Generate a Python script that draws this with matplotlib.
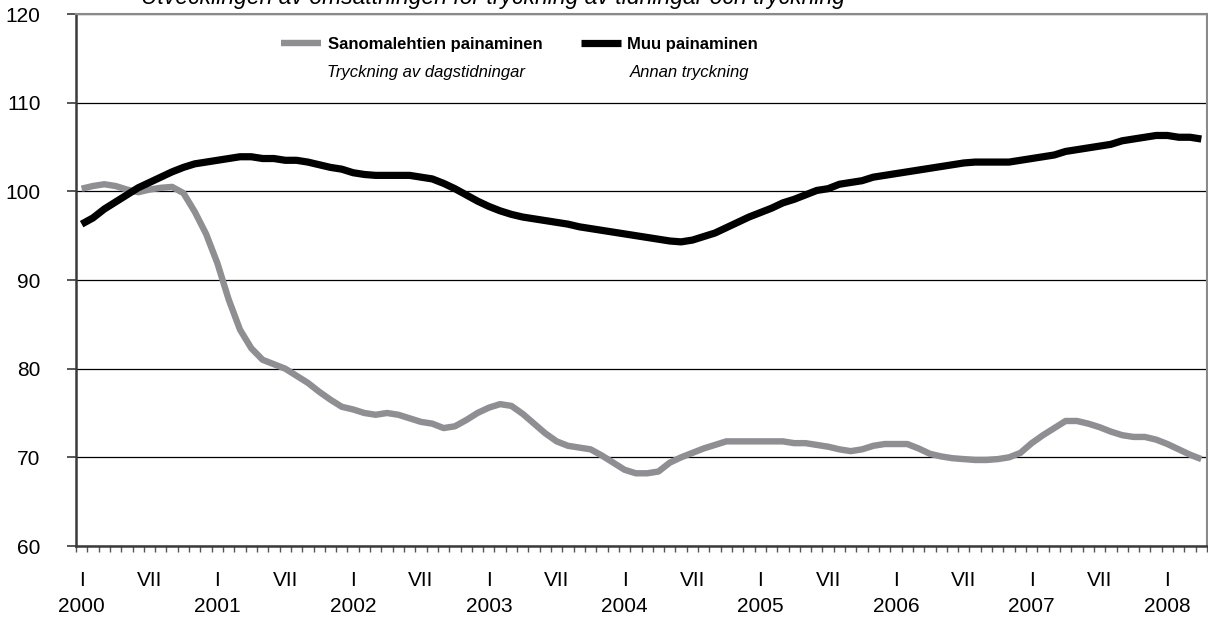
import matplotlib
matplotlib.use("Agg")
import matplotlib.pyplot as plt
from matplotlib.lines import Line2D
import numpy as np

plt.rcParams["font.family"] = ["Liberation Sans", "DejaVu Sans"]

# monthly index, Jan 2000 .. Apr 2008
years = list(range(2000, 2009))
n_months = 100

sanomalehti = [
    100.3, 100.6, 100.8, 100.6, 100.2, 99.9, 100.2, 100.4, 100.5, 99.8,
    97.7, 95.2, 91.9, 87.8, 84.4, 82.3, 81.0, 80.5, 80.0, 79.2,
    78.4, 77.4, 76.5, 75.7, 75.4, 75.0, 74.8, 75.0, 74.8, 74.4,
    74.0, 73.8, 73.3, 73.5, 74.2, 75.0, 75.6, 76.0, 75.8, 74.9,
    73.8, 72.7, 71.8, 71.3, 71.1, 70.9, 70.2, 69.4, 68.6, 68.2,
    68.2, 68.4, 69.4, 70.0, 70.5, 71.0, 71.4, 71.8, 71.8, 71.8,
    71.8, 71.8, 71.8, 71.6, 71.6, 71.4, 71.2, 70.9, 70.7, 70.9,
    71.3, 71.5, 71.5, 71.5, 71.0, 70.4, 70.1, 69.9, 69.8, 69.7,
    69.7, 69.8, 70.0, 70.5, 71.6, 72.5, 73.3, 74.1, 74.1, 73.8,
    73.4, 72.9, 72.5, 72.3, 72.3, 72.0, 71.5, 70.9, 70.3, 69.8,
]

muu = [
    96.3, 97.0, 98.0, 98.8, 99.6, 100.4, 101.0, 101.6, 102.2, 102.7,
    103.1, 103.3, 103.5, 103.7, 103.9, 103.9, 103.7, 103.7, 103.5, 103.5,
    103.3, 103.0, 102.7, 102.5, 102.1, 101.9, 101.8, 101.8, 101.8, 101.8,
    101.6, 101.4, 100.9, 100.3, 99.6, 98.9, 98.3, 97.8, 97.4, 97.1,
    96.9, 96.7, 96.5, 96.3, 96.0, 95.8, 95.6, 95.4, 95.2, 95.0,
    94.8, 94.6, 94.4, 94.3, 94.5, 94.9, 95.3, 95.9, 96.5, 97.1,
    97.6, 98.1, 98.7, 99.1, 99.6, 100.1, 100.3, 100.8, 101.0, 101.2,
    101.6, 101.8, 102.0, 102.2, 102.4, 102.6, 102.8, 103.0, 103.2, 103.3,
    103.3, 103.3, 103.3, 103.5, 103.7, 103.9, 104.1, 104.5, 104.7, 104.9,
    105.1, 105.3, 105.7, 105.9, 106.1, 106.3, 106.3, 106.1, 106.1, 105.9,
]

GRAY = "#8e8e93"
AXC = "#3a3a3a"

fig = plt.figure(figsize=(12.08, 6.19), dpi=100)
ax = fig.add_axes([76 / 1208, 1 - 546 / 619, (1207 - 76) / 1208, (546 - 14) / 619])

x = np.arange(n_months)
ax.plot(x, sanomalehti, color=GRAY, lw=4.6, solid_capstyle="butt", zorder=3)
ax.plot(x, muu, color="black", lw=5.2, solid_capstyle="butt", zorder=4)

ax.set_xlim(-0.5, n_months - 0.5)
ax.set_ylim(60, 120)

# y axis
ax.set_yticks(range(60, 121, 10))
ax.tick_params(axis="y", direction="out", length=6.5, width=1.2, color=AXC,
               labelsize=15, pad=19)
ax.yaxis.grid(True, color="black", lw=0.9)
ax.set_axisbelow(True)

# x axis: month boundaries as minor ticks, I / VII labels
ax.set_xticks(np.arange(-0.5, n_months, 1), minor=True)
major_pos, major_lab = [], []
for k, yr in enumerate(years):
    for m, roman in ((0, "I"), (6, "VII")):
        idx = k * 12 + m
        if idx < n_months:
            major_pos.append(idx)
            major_lab.append(f"{roman}\n{yr}" if m == 0 else f"{roman}\n")
ax.set_xticks(major_pos)
ax.set_xticklabels(major_lab, fontsize=15, linespacing=1.5)
ax.tick_params(axis="x", which="major", length=0, pad=18)
ax.tick_params(axis="x", which="minor", direction="out", length=4.5, width=1.0,
               color="#555555")

for side in ("top", "right"):
    ax.spines[side].set_color("#8a8a8a")
    ax.spines[side].set_linewidth(1.5)
for side in ("left", "bottom"):
    ax.spines[side].set_color(AXC)
    ax.spines[side].set_linewidth(1.8)

# legend
handles = [
    Line2D([], [], color=GRAY, lw=4.6, solid_capstyle="butt"),
    Line2D([], [], color="black", lw=5.2, solid_capstyle="butt"),
]
leg = ax.legend(handles, ["Sanomalehtien painaminen", "Muu painaminen"],
                ncol=2, frameon=False, loc="center left",
                bbox_to_anchor=(281 / 1208, 1 - 44 / 619),
                bbox_transform=fig.transFigure, borderpad=0, borderaxespad=0,
                handlelength=2.4, handletextpad=0.4, columnspacing=2.3,
                prop={"weight": "bold", "size": 12})

fig.text(327 / 1208, 1 - 73 / 619, "Tryckning av dagstidningar",
         fontsize=12, style="italic", ha="left", va="center")
fig.text(690 / 1208, 1 - 73 / 619, "Annan tryckning",
         fontsize=12, style="italic", ha="center", va="center")

# title, clipped at the top edge as in the source
fig.text(493 / 1208, 1 - 4 / 619,
         "Utvecklingen av omsättningen för tryckning av tidningar och tryckning",
         fontsize=16.5, style="italic", ha="center", va="baseline")

fig.savefig("out.png", dpi=100, facecolor="white")
